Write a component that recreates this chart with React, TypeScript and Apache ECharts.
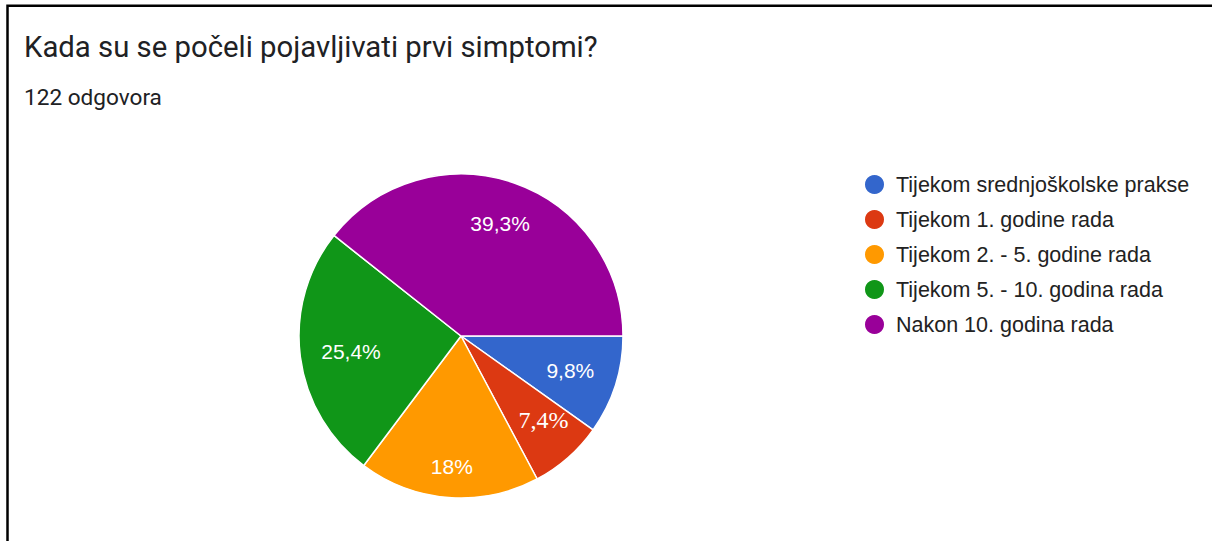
import React, { useEffect, useRef } from "react";
import * as echarts from "echarts";

const titleText = "Kada su se počeli pojavljivati prvi simptomi?";
const subtitleText = "122 odgovora";
const categories = [
  "Tijekom srednjoškolske prakse",
  "Tijekom 1. godine rada",
  "Tijekom 2. - 5. godine rada",
  "Tijekom 5. - 10. godina rada",
  "Nakon 10. godina rada",
];
const counts = [12, 9, 22, 31, 48];
const colors = ["#3366cc", "#dc3912", "#ff9900", "#109618", "#990099"];

const total = counts.reduce((a, b) => a + b, 0);
const pctLabel = (v: number) => {
  const s = ((v / total) * 100).toFixed(1).replace(/\.0$/, "");
  return s.replace(".", ",") + "%";
};

// per-slice label nudges and rich style key (style, not data)
const labelOffsets: number[][] = [
  [-4, -2],
  [4, -5],
  [0, 12],
  [8, 0],
  [0, 0],
];
const labelRich = ["sans", "serif", "sans", "sans", "sans"];

export default function App() {
  const ref = useRef<HTMLDivElement>(null);
  useEffect(() => {
    if (!ref.current) return;
    const chart = echarts.init(ref.current, null, { renderer: "svg" });
    const center = [461, 336];
    const baseData = categories.map((name, i) => ({
      name,
      value: counts[i],
      itemStyle: { color: colors[i] },
    }));
    const labelData = categories.map((name, i) => ({
      name,
      value: counts[i],
      label: { offset: labelOffsets[i] },
    }));
    chart.setOption({
      animation: false,
      backgroundColor: "#ffffff",
      title: [
        {
          text: titleText,
          left: 19,
          top: 27,
          textStyle: {
            fontFamily: "Roboto",
            fontSize: 29.3,
            fontWeight: "normal",
            color: "#202124",
          },
        },
        {
          text: subtitleText,
          left: 19,
          top: 81,
          textStyle: {
            fontFamily: "Roboto",
            fontSize: 22.6,
            fontWeight: "normal",
            color: "#202124",
          },
        },
      ],
      graphic: [
        {
          type: "rect",
          shape: { x: 7.5, y: 5.75, width: 1400, height: 800 },
          style: { fill: "none", stroke: "#000", lineWidth: 2.5 },
          silent: true,
        },
      ],
      legend: {
        orient: "vertical",
        left: 858,
        top: 168,
        icon: "circle",
        itemWidth: 21,
        itemHeight: 21,
        itemGap: 12,
        data: categories,
        textStyle: {
          fontFamily: "Liberation Sans",
          fontSize: 21.5,
          lineHeight: 23,
          color: "#222222",
          padding: [0, 0, 0, 6],
        },
      },
      series: [
        {
          type: "pie",
          center,
          radius: [0, 162],
          startAngle: 0,
          clockwise: true,
          label: { show: false },
          labelLine: { show: false },
          itemStyle: { borderColor: "#ffffff", borderWidth: 1.5 },
          emphasis: { disabled: true },
          data: baseData,
        },
        {
          type: "pie",
          center,
          radius: [70, 162],
          startAngle: 0,
          clockwise: true,
          silent: true,
          itemStyle: { color: "rgba(0,0,0,0)", borderWidth: 0 },
          emphasis: { disabled: true },
          labelLine: { show: false },
          label: {
            show: true,
            position: "inside",
            color: "#ffffff",
            fontFamily: "Liberation Sans",
            fontSize: 21,
            formatter: (p: any) =>
              "{" + labelRich[p.dataIndex] + "|" + pctLabel(p.value) + "}",
            rich: {
              sans: {
                fontFamily: "Liberation Sans",
                fontSize: 21,
                color: "#ffffff",
              },
              serif: {
                fontFamily: "Liberation Serif",
                fontSize: 24,
                color: "#ffffff",
              },
            },
          },
          data: labelData,
        },
      ],
    });
    return () => chart.dispose();
  }, []);
  return (
    <div
      ref={ref}
      style={{ position: "absolute", left: 0, top: 0, width: 1212, height: 541 }}
    />
  );
}
